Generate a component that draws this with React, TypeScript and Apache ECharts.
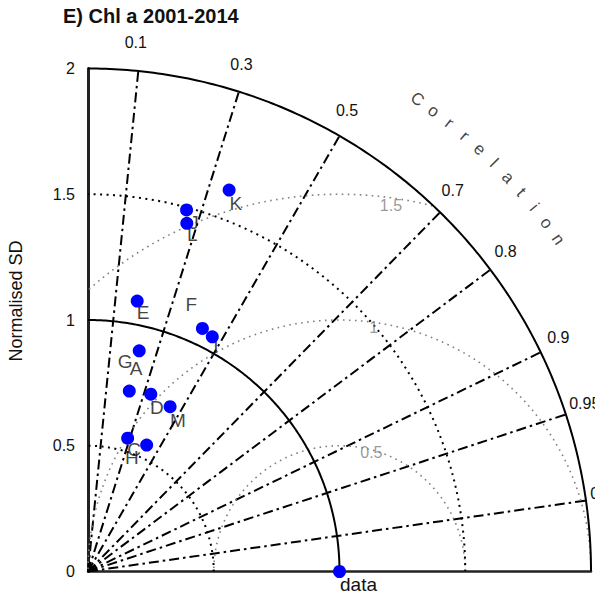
import React, { useEffect, useRef } from "react";
import * as echarts from "echarts";

const titleText = "E) Chl a 2001-2014";
const yAxisName = "Normalised SD";
const corAxisName = "Correlation";
const refName = "data";

const corTicks = [0.1, 0.3, 0.5, 0.7, 0.8, 0.9, 0.95, 0.99];
const sdTicks = [0, 0.5, 1, 1.5, 2];
const sdArcsDotted = [0.5, 1.5];
const sdArcsSolid = [1, 2];
const rmsArcs = [0.5, 1, 1.5];

// model points (normalised SD, correlation)
const pointSd = [1.617, 1.49, 1.439, 1.093, 1.068, 1.056, 0.901, 0.736, 0.748, 0.732, 0.553, 0.554];
const pointCor = [0.347, 0.263, 0.273, 0.179, 0.426, 0.468, 0.226, 0.223, 0.334, 0.446, 0.285, 0.421];

// model labels (placed at their own SD / correlation positions)
const labelNames = ["K", "J", "L", "E", "F", "I", "G", "A", "D", "M", "C", "H"];
const labelSd = [1.575, 1.452, 1.401, 1.051, 1.137, 1.028, 0.846, 0.831, 0.709, 0.7, 0.52, 0.487];
const labelCor = [0.373, 0.29, 0.296, 0.208, 0.361, 0.495, 0.174, 0.23, 0.386, 0.511, 0.352, 0.359];

const refSd = 1;
const refCor = 1;

const FONT = "'Liberation Sans', Arial, Helvetica, sans-serif";

function polar(sd: number, cor: number): [number, number] {
  return [sd * cor, sd * Math.sqrt(Math.max(0, 1 - cor * cor))];
}

function sdArc(r: number): number[][] {
  const pts: number[][] = [];
  for (let a = 0; a <= 90; a += 0.5) {
    const t = (a * Math.PI) / 180;
    pts.push([r * Math.cos(t), r * Math.sin(t)]);
  }
  return pts;
}

function rmsArc(r: number, maxR: number): number[][] {
  const pts: number[][] = [];
  const [cx, cy] = polar(refSd, refCor);
  for (let a = 0; a <= 180; a += 0.25) {
    const t = (a * Math.PI) / 180;
    const x = cx + r * Math.cos(t);
    const y = cy + r * Math.sin(t);
    if (x >= 0 && Math.sqrt(x * x + y * y) <= maxR + 1e-9) pts.push([x, y]);
  }
  return pts;
}

export default function App() {
  const ref = useRef<HTMLDivElement>(null);
  useEffect(() => {
    if (!ref.current) return;
    const chart = echarts.init(ref.current, undefined, { renderer: "svg" });
    const maxSd = sdTicks[sdTicks.length - 1];

    const dashDot = { color: "#000", width: 2, type: [10, 4, 2.5, 4] as any };
    const series: any[] = [];

    corTicks.forEach((c) => {
      series.push({
        type: "line",
        data: [[0, 0], polar(maxSd, c)],
        symbol: "none",
        silent: true,
        clip: false,
        lineStyle: dashDot,
        z: 2,
      });
    });

    rmsArcs.forEach((r) => {
      series.push({
        type: "line",
        data: rmsArc(r, maxSd),
        symbol: "none",
        silent: true,
        clip: false,
        lineStyle: { color: "#808080", width: 1.6, type: [1.6, 4.4] as any },
        z: 2,
      });
    });

    sdArcsDotted.forEach((r) => {
      series.push({
        type: "line",
        data: sdArc(r),
        symbol: "none",
        silent: true,
        clip: false,
        lineStyle: { color: "#000", width: 2, type: [2, 4.5] as any },
        z: 2,
      });
    });

    sdArcsSolid.forEach((r) => {
      series.push({
        type: "line",
        data: sdArc(r),
        symbol: "none",
        silent: true,
        clip: false,
        lineStyle: { color: "#000", width: 2 },
        z: 3,
      });
    });

    // model labels (under points)
    series.push({
      type: "scatter",
      clip: false,
      silent: true,
      symbolSize: 1,
      itemStyle: { color: "rgba(0,0,0,0)" },
      z: 4,
      data: labelNames.map((n, i) => ({ name: n, value: polar(labelSd[i], labelCor[i]) })),
      label: {
        show: true,
        position: "inside",
        formatter: (p: any) => p.name,
        fontSize: 19,
        fontFamily: FONT,
        color: "#111",
      },
    });

    // model points
    series.push({
      type: "scatter",
      clip: false,
      silent: true,
      symbolSize: 13,
      itemStyle: { color: "#0000FF", opacity: 1 },
      z: 5,
      data: pointSd.map((s, i) => polar(s, pointCor[i])),
    });

    // reference point
    series.push({
      type: "scatter",
      clip: false,
      silent: true,
      symbolSize: 13,
      itemStyle: { color: "#0000FF", opacity: 1 },
      z: 5,
      data: [{ name: refName, value: polar(refSd, refCor) }],
      label: {
        show: true,
        position: "inside",
        offset: [19, 13],
        formatter: (p: any) => p.name,
        fontSize: 19,
        fontFamily: FONT,
        color: "#111",
      },
    });

    // RMS labels
    const [rx, ry] = polar(refSd, refCor);
    const rmsAngles = [75, 82, 82];
    series.push({
      type: "scatter",
      clip: false,
      silent: true,
      symbolSize: 1,
      itemStyle: { color: "rgba(0,0,0,0)" },
      z: 4,
      data: rmsArcs.map((r, i) => {
        const t = (rmsAngles[i] * Math.PI) / 180;
        return { name: String(r), value: [rx + 0.98 * r * Math.cos(t), ry + 0.98 * r * Math.sin(t)] };
      }),
      label: {
        show: true,
        position: "inside",
        formatter: (p: any) => p.name,
        fontSize: 16,
        fontFamily: FONT,
        color: "#808080",
      },
    });

    // "Correlation" along the arc
    const chars = corAxisName.split("");
    const a0 = 55.1;
    const a1 = 35.25;
    const nameR = 2.29;
    series.push({
      type: "scatter",
      clip: false,
      silent: true,
      symbolSize: 1,
      itemStyle: { color: "rgba(0,0,0,0)" },
      z: 4,
      data: chars.map((ch, i) => {
        const deg = a0 + ((a1 - a0) * i) / (chars.length - 1);
        const t = (deg * Math.PI) / 180;
        return {
          name: ch,
          value: [nameR * Math.cos(t), nameR * Math.sin(t)],
          label: { rotate: deg - 90 },
        };
      }),
      label: {
        show: true,
        position: "inside",
        formatter: (p: any) => p.name,
        fontSize: 17,
        fontFamily: FONT,
        color: "#111",
      },
    });

    chart.setOption({
      animation: false,
      backgroundColor: "#fff",
      title: {
        text: titleText,
        left: 63,
        top: 6,
        padding: 0,
        textStyle: { fontSize: 20, fontWeight: "bold", fontFamily: FONT, color: "#111" },
      },
      grid: { left: 88, top: 68.5, width: 503, height: 503, containLabel: false },
      xAxis: {
        type: "value",
        min: 0,
        max: maxSd,
        axisLine: { show: true, onZero: false, lineStyle: { color: "#222", width: 2.5 } },
        axisTick: { show: false },
        axisLabel: { show: false },
        splitLine: { show: false },
      },
      yAxis: {
        type: "value",
        min: 0,
        max: maxSd,
        interval: 0.5,
        axisLine: { show: true, onZero: false, lineStyle: { color: "#222", width: 3 } },
        axisTick: { show: false },
        axisLabel: {
          fontSize: 16,
          fontFamily: FONT,
          color: "#111",
          margin: 13,
          formatter: (v: number) => String(v),
        },
        splitLine: { show: false },
      },
      series,
    });

    // correlation tick labels, positioned through the chart's own scales
    const corLabelR = 2.1;
    const corGraphics = corTicks.map((c, i) => {
      const px = chart.convertToPixel({ gridIndex: 0 }, polar(corLabelR, c)) as number[];
      return {
        type: "text",
        id: "cor" + i,
        x: px[0] - 5,
        y: px[1] - 3.5,
        silent: true,
        style: {
          text: String(c),
          fontSize: 16,
          fontFamily: FONT,
          fill: "#111",
          align: "center",
          verticalAlign: "middle",
        },
      };
    });

    chart.setOption({
      graphic: [
        {
          type: "text",
          id: "yname",
          x: 15.5,
          y: 301,
          rotation: Math.PI / 2,
          silent: true,
          style: {
            text: yAxisName,
            fontSize: 18,
            fontFamily: FONT,
            fill: "#111",
            align: "center",
            verticalAlign: "middle",
          },
        },
        ...corGraphics,
      ],
    });
    return () => chart.dispose();
  }, []);
  return (
    <div
      ref={ref}
      style={{ position: "fixed", left: 0, top: 0, width: 595, height: 595, background: "#fff" }}
    />
  );
}
